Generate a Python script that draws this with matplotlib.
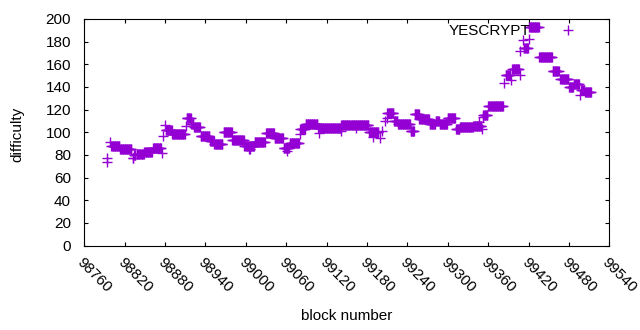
import matplotlib
matplotlib.use("Agg")
import matplotlib.pyplot as plt
import numpy as np

plt.rcParams['font.family'] = ['Liberation Sans', 'DejaVu Sans']

# runs of blocks with the same difficulty: first block, last block, difficulty
run_start = [98793, 98794, 98798, 98800, 98813, 98832, 98834, 98838, 98849, 98862,
             98875, 98877, 98880, 98881, 98891, 98911, 98912, 98919, 98923, 98933,
             98947, 98953, 98967, 98980, 98998, 99005, 99013, 99030, 99043, 99056,
             99061, 99065, 99080, 99081, 99089, 99107, 99108, 99141, 99142, 99164,
             99183, 99189, 99200, 99202, 99207, 99209, 99210, 99220, 99226, 99245,
             99251, 99258, 99273, 99282, 99288, 99300, 99312, 99318, 99338, 99347,
             99351, 99352, 99353, 99360, 99383, 99386, 99394, 99396, 99407, 99408,
             99412, 99413, 99420, 99421, 99436, 99456, 99467, 99480, 99487, 99496,
             99498, 99504]
run_end = [98793, 98794, 98798, 98812, 98830, 98833, 98836, 98848, 98860, 98874,
           98875, 98877, 98880, 98890, 98909, 98911, 98918, 98922, 98932, 98946,
           98952, 98965, 98979, 98997, 99012, 99006, 99028, 99042, 99055, 99064,
           99061, 99079, 99080, 99088, 99106, 99141, 99108, 99141, 99182, 99164,
           99197, 99189, 99200, 99202, 99207, 99209, 99219, 99225, 99244, 99250,
           99257, 99272, 99281, 99287, 99299, 99311, 99317, 99337, 99350, 99347,
           99351, 99352, 99359, 99382, 99383, 99393, 99394, 99406, 99407, 99408,
           99412, 99419, 99420, 99435, 99455, 99465, 99479, 99486, 99495, 99496,
           99503, 99513]
run_diff = [77, 74, 91, 88.3, 85.3, 77, 79.5, 81.1, 82.8, 85.8,
            81.4, 96.7, 106, 102, 98.8, 105.5, 112.3, 107.5, 104.3, 96.4,
            92, 89.3, 100, 92.9, 88.1, 85.5, 91.1, 99, 94.7, 86.4,
            83.5, 90.2, 98.2, 102.6, 107.5, 103.5, 99, 101, 106.7, 103.8,
            100.2, 96, 95.2, 101.1, 110, 113, 116.7, 109.7, 107, 101,
            115.8, 111.4, 107, 110, 107, 112.3, 102.6, 104.6, 105.6, 109.3,
            102.6, 113.7, 115, 123, 143.2, 150.6, 146.1, 155.6, 150.6, 172,
            181.5, 174.7, 182.3, 192.7, 166.7, 154.3, 146.7, 140.2, 142.3, 132.9,
            137.3, 135.3]

blocks = np.concatenate([np.arange(s, e + 1) for s, e in zip(run_start, run_end)])
difficulty = np.concatenate([np.full(e - s + 1, d) for s, e, d in zip(run_start, run_end, run_diff)])

fig = plt.figure(figsize=(6.4, 3.3), dpi=100)
ax = fig.add_axes([84.3 / 640, 84.5 / 330, 525 / 640, 226.5 / 330])

ax.plot(blocks, difficulty, linestyle='none', marker='+', markersize=6.5,
        markeredgewidth=1.0, color='#9400d3', label='YESCRYPT')

ax.set_xlim(98760, 99540)
ax.set_ylim(0, 200)
ax.set_xticks(np.arange(98760, 99541, 60))
ax.set_yticks(np.arange(0, 201, 20))
ax.tick_params(direction='in', top=True, right=True, length=3, width=0.8,
               labelsize=11)
ax.tick_params(axis='x', pad=7)
ax.tick_params(axis='y', pad=9.5)
for lab in ax.get_xticklabels():
    lab.set_rotation(-45)
    lab.set_ha('left')
    lab.set_va('top')
    lab.set_rotation_mode('anchor')
for sp in ax.spines.values():
    sp.set_linewidth(0.8)

fig.text(346.8 / 640, 1 - 316 / 330, 'block number', ha='center', va='center', fontsize=11)
fig.text(17.5 / 640, 1 - 134 / 330, 'difficulty', ha='center', va='center',
         rotation=90, fontsize=11)

ax.legend(loc='upper right', bbox_to_anchor=(0.9615, 1.005), borderaxespad=0,
          frameon=False, markerfirst=False, handlelength=2.0, handletextpad=1.46,
          fontsize=11)

fig.savefig('out.png', dpi=100)
